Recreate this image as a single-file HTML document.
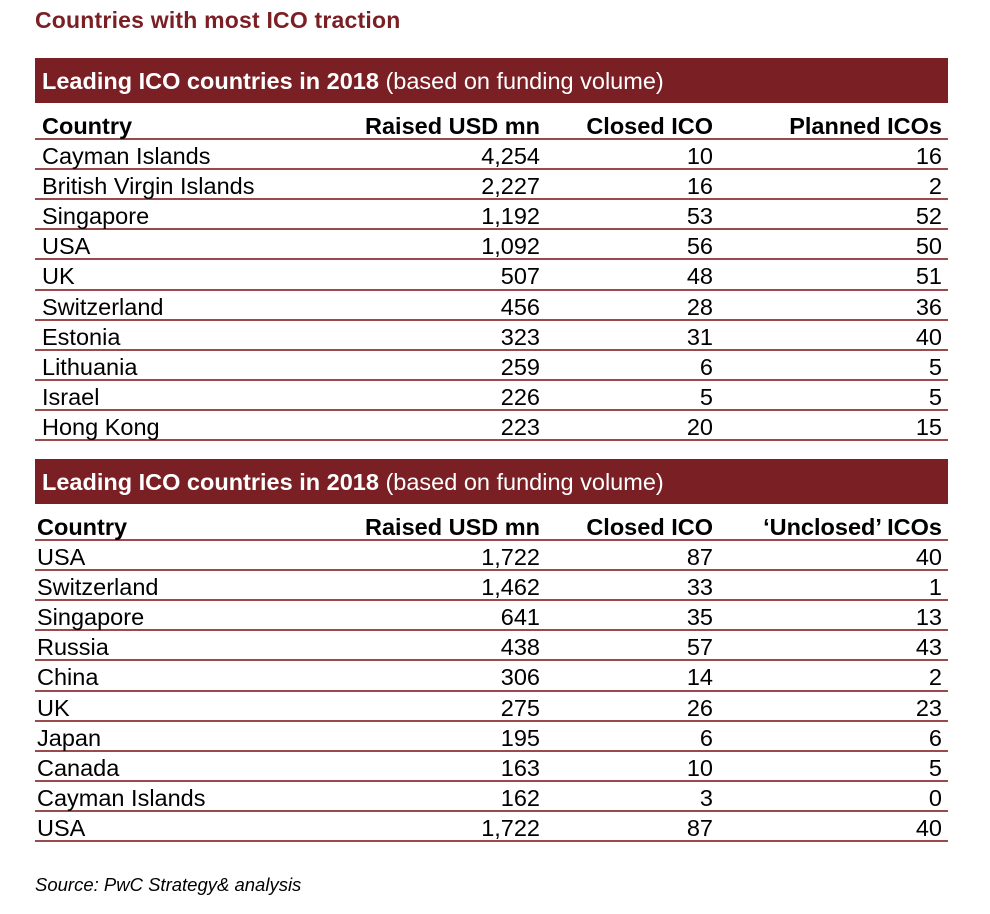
<!DOCTYPE html>
<html><head><meta charset="utf-8"><style>
body{margin:0;width:990px;height:914px;background:#fff;font-family:"Liberation Sans",Arial,sans-serif;position:relative;overflow:hidden;color:#000}
.title{position:absolute;left:35px;top:7px;font-size:23px;font-weight:bold;color:#7a1f24;letter-spacing:0.2px}
.bar{position:absolute;left:35px;width:913px;height:45px;background:#7a2024;color:#fff;font-size:23.5px;line-height:47px;box-sizing:border-box;padding-left:7px}
.tbl{position:absolute;left:35px;width:913px}
.r{height:30.1px;box-sizing:border-box;border-bottom:2px solid #9a4a4c;position:relative;font-size:23.5px;line-height:30px}
.r span{position:absolute;top:1px;white-space:nowrap}
.h{font-weight:bold}
.c0{left:7px}.c1{right:408px}.c2{right:235px}.c3{right:6px}
.t2 .c0{left:2px}
.src{position:absolute;left:35px;top:874px;font-size:18.5px;font-style:italic}
</style></head><body>
<div class="title">Countries with most ICO traction</div>
<div class="bar" style="top:58px"><b>Leading ICO countries in 2018</b> (based on funding volume)</div>
<div class="tbl" style="top:110px">
<div class="r h"><span class="c0">Country</span><span class="c1">Raised USD mn</span><span class="c2">Closed ICO</span><span class="c3">Planned ICOs</span></div>
<div class="r"><span class="c0">Cayman Islands</span><span class="c1">4,254</span><span class="c2">10</span><span class="c3">16</span></div>
<div class="r"><span class="c0">British Virgin Islands</span><span class="c1">2,227</span><span class="c2">16</span><span class="c3">2</span></div>
<div class="r"><span class="c0">Singapore</span><span class="c1">1,192</span><span class="c2">53</span><span class="c3">52</span></div>
<div class="r"><span class="c0">USA</span><span class="c1">1,092</span><span class="c2">56</span><span class="c3">50</span></div>
<div class="r"><span class="c0">UK</span><span class="c1">507</span><span class="c2">48</span><span class="c3">51</span></div>
<div class="r"><span class="c0">Switzerland</span><span class="c1">456</span><span class="c2">28</span><span class="c3">36</span></div>
<div class="r"><span class="c0">Estonia</span><span class="c1">323</span><span class="c2">31</span><span class="c3">40</span></div>
<div class="r"><span class="c0">Lithuania</span><span class="c1">259</span><span class="c2">6</span><span class="c3">5</span></div>
<div class="r"><span class="c0">Israel</span><span class="c1">226</span><span class="c2">5</span><span class="c3">5</span></div>
<div class="r"><span class="c0">Hong Kong</span><span class="c1">223</span><span class="c2">20</span><span class="c3">15</span></div>
</div>
<div class="bar" style="top:459px"><b>Leading ICO countries in 2018</b> (based on funding volume)</div>
<div class="tbl t2" style="top:511px">
<div class="r h"><span class="c0">Country</span><span class="c1">Raised USD mn</span><span class="c2">Closed ICO</span><span class="c3">‘Unclosed’ ICOs</span></div>
<div class="r"><span class="c0">USA</span><span class="c1">1,722</span><span class="c2">87</span><span class="c3">40</span></div>
<div class="r"><span class="c0">Switzerland</span><span class="c1">1,462</span><span class="c2">33</span><span class="c3">1</span></div>
<div class="r"><span class="c0">Singapore</span><span class="c1">641</span><span class="c2">35</span><span class="c3">13</span></div>
<div class="r"><span class="c0">Russia</span><span class="c1">438</span><span class="c2">57</span><span class="c3">43</span></div>
<div class="r"><span class="c0">China</span><span class="c1">306</span><span class="c2">14</span><span class="c3">2</span></div>
<div class="r"><span class="c0">UK</span><span class="c1">275</span><span class="c2">26</span><span class="c3">23</span></div>
<div class="r"><span class="c0">Japan</span><span class="c1">195</span><span class="c2">6</span><span class="c3">6</span></div>
<div class="r"><span class="c0">Canada</span><span class="c1">163</span><span class="c2">10</span><span class="c3">5</span></div>
<div class="r"><span class="c0">Cayman Islands</span><span class="c1">162</span><span class="c2">3</span><span class="c3">0</span></div>
<div class="r"><span class="c0">USA</span><span class="c1">1,722</span><span class="c2">87</span><span class="c3">40</span></div>
</div>
<div class="src">Source: PwC Strategy&amp; analysis</div>
</body></html>
